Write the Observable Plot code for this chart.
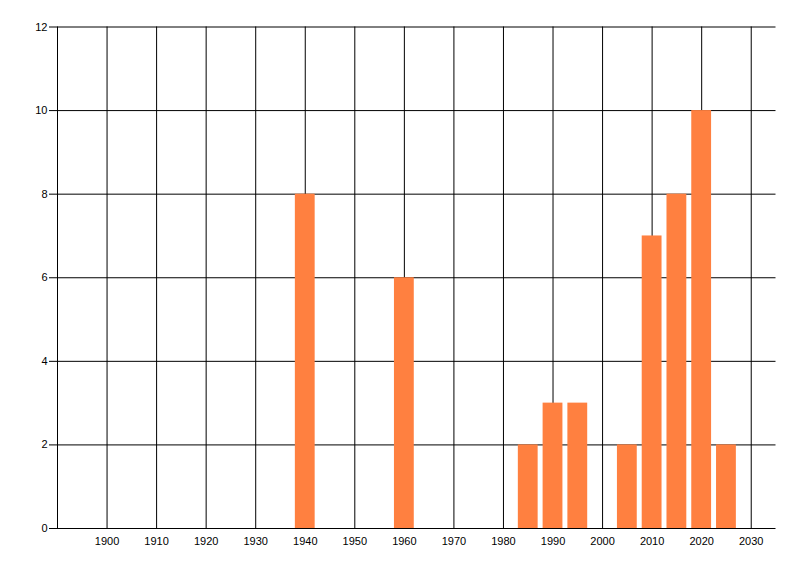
<!DOCTYPE html>
<html lang="en">
<head>
<meta charset="UTF-8">
<script src="https://cdn.jsdelivr.net/npm/d3@7"></script>
<script src="https://cdn.jsdelivr.net/npm/@observablehq/plot@0.6"></script>
<style>
  body { margin: 0; background: #fff; }
  #plot svg { display: block; }
</style>
</head>
<body>
<div id="plot"></div>
<script>
const years = [1940, 1960, 1985, 1990, 1995, 2005, 2010, 2015, 2020, 2025];
const counts = [8, 6, 2, 3, 3, 2, 7, 8, 10, 2];
const xTicks = [1900, 1910, 1920, 1930, 1940, 1950, 1960, 1970, 1980, 1990, 2000, 2010, 2020, 2030];
const yTicks = [0, 2, 4, 6, 8, 10, 12];

const bars = years.map((y, i) => ({year: y, count: counts[i]}));

const plot = Plot.plot({
  width: 800,
  height: 576,
  marginLeft: 57,
  marginRight: 24.5,
  marginTop: 26.5,
  marginBottom: 48,
  style: {fontFamily: "'Liberation Sans', Arial, sans-serif", fontSize: "11px", color: "#000", background: "#fff"},
  x: {domain: [1890, 2035]},
  y: {domain: [0, 12]},
  marks: [
    Plot.ruleX(xTicks, {stroke: "#000", strokeOpacity: 1, strokeWidth: 1}),
    Plot.ruleX([1890], {stroke: "#000", strokeWidth: 1}),
    Plot.ruleY(yTicks, {stroke: "#000", strokeWidth: 1, x1: 1890, x2: 2035}),
    Plot.rectY(bars, {x1: d => d.year - 2, x2: d => d.year + 2, y: "count", fill: "#ff8040", inset: 0}),
    Plot.axisX(xTicks, {tickSize: 0, tickPadding: 9, label: null, tickFormat: d => String(d)}),
    Plot.axisY(yTicks, {tickSize: 8, tickPadding: 2, label: null, stroke: "#000"})
  ]
});
document.querySelector("#plot").append(plot);
</script>
</body>
</html>
